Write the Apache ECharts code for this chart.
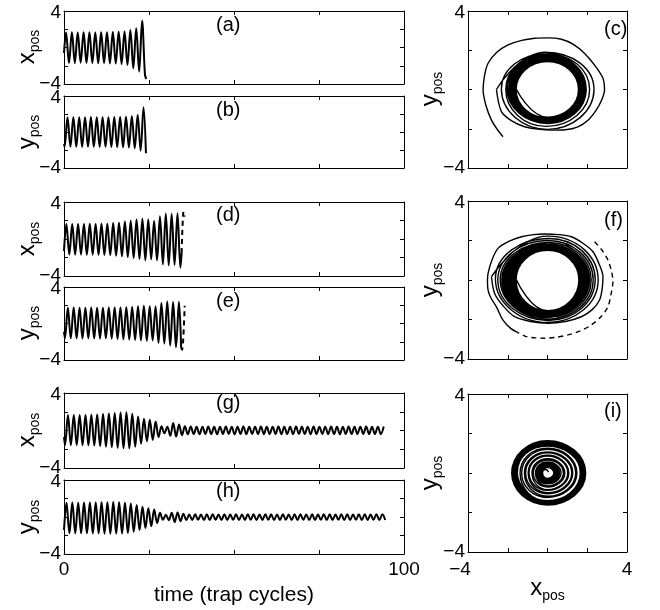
<!DOCTYPE html>
<html><head><meta charset="utf-8">
<script src="https://cdn.jsdelivr.net/npm/echarts@6/dist/echarts.min.js"></script>
<style>html,body{margin:0;padding:0;background:#fff}#c{width:660px;height:610px}</style>
</head><body><div id="c"></div>
<script>
// ---------------- data ----------------
const HALF_CYCLE = 0.86; // time between successive extrema (trap cycles)

// (a) x_pos, extrema start with a peak
const aHead = [[0, -0.6]];
const aStart = 0.6;
const aVals = [1.65,-1.68,1.66,-1.70,1.64,-1.66,1.66,-1.68,1.68,-1.70,1.65,-1.72,1.67,-1.70,1.66,-1.74,1.70,-1.76,1.72,-1.80,1.75,-1.92,1.92,-2.28,2.10,-2.65,2.94,-3.00];
const aTail = [[24.2, -3.45]];

// (b) y_pos, extrema start with a trough
const bHead = [[0, -1.33]];
const bStart = 0.17;
const bVals = [-1.63,1.63,-1.63,1.65,-1.62,1.64,-1.65,1.63,-1.63,1.66,-1.64,1.64,-1.66,1.65,-1.63,1.63,-1.65,1.66,-1.67,1.68,-1.70,1.70,-1.72,1.75,-1.80,1.89,-2.08,2.74];
const bTail = [[24.1, -2.37]];

// (d) x_pos
const dHead = [[0, -1.3]];
const dStart = 0.7;
const dVals = [1.62,-1.68,1.62,-1.69,1.63,-1.68,1.62,-1.70,1.64,-1.69,1.63,-1.70,1.65,-1.72,1.66,-1.74,1.72,-1.80,1.76,-1.86,1.90,-1.95,1.98,-2.05,2.10,-2.15,2.20,-2.30,2.10,-2.20,1.95,-2.30,2.45,-2.75,2.75,-2.85,2.72,-2.80,2.78,-3.10];
const dTail = [[34.6, -1.5]];
const dDash = [[34.6, -1.5],[35.15, 2.95],[35.45, 2.4]];

// (e) y_pos
const eHead = [[0, -0.9]];
const eStart = 0.27;
const eVals = [-1.62,1.73,-1.63,1.74,-1.62,1.72,-1.64,1.73,-1.62,1.74,-1.63,1.72,-1.64,1.73,-1.63,1.74,-1.65,1.75,-1.68,1.76,-1.72,1.78,-1.75,1.82,-1.80,1.90,-1.85,1.95,-1.90,1.90,-1.85,1.85,-2.10,2.25,-2.20,2.40,-2.40,2.35,-2.60,2.38];
const eTail = [[34.45, -2.67]];
const eDash = [[34.45, -2.67],[34.75, -2.9],[35.5, 1.95]];

// (g) x_pos
const gHead = [[0, -0.7]];
const gStart = 0.3;
const gVals = [-1.55,1.65,-1.56,1.66,-1.55,1.65,-1.57,1.66,-1.58,1.68,
 -1.60,1.72,-1.66,1.76,-1.72,1.82,-1.78,1.88,-1.85,1.92,
 -1.90,1.95,-1.90,1.80,-1.72,1.50,-1.40,1.25,-1.15,1.15,
 -1.00,0.95,-0.70,0.45,-0.30,0.40,-0.55,0.80,-0.65,0.65,
 -0.50,0.45,-0.40,0.42,-0.38,0.40,-0.39,0.41,-0.37,0.42,
 -0.38,0.40,-0.39,0.41,-0.38,0.42,-0.37,0.40,-0.39,0.41,
 -0.38,0.42,-0.39,0.40,-0.37,0.41,-0.38,0.42,-0.39,0.40,
 -0.38,0.41,-0.37,0.42,-0.39,0.40,-0.38,0.41,-0.39,0.42,
 -0.37,0.40,-0.38,0.41,-0.39,0.42,-0.38,0.40,-0.37,0.41,
 -0.39,0.42,-0.38,0.40,-0.39,0.41,-0.37,0.42,-0.38,0.40,
 -0.38,0.41,-0.37,0.42,-0.39,0.40,-0.38,0.41,-0.39,0.42];

// (h) y_pos
const hHead = [[0, -1.4]];
const hStart = 0.73;
const hVals = [1.55,-1.75,1.56,-1.77,1.55,-1.76,1.57,-1.77,1.56,-1.78,
 1.58,-1.77,1.60,-1.80,1.60,-1.80,1.62,-1.80,1.60,-1.78,
 1.55,-1.72,1.45,-1.60,1.30,-1.40,1.10,-1.20,0.95,-1.00,
 0.80,-0.65,0.45,-0.30,0.25,-0.35,0.45,-0.55,0.50,-0.45,
 0.35,-0.32,0.28,-0.33,0.29,-0.31,0.28,-0.33,0.30,-0.32,
 0.29,-0.31,0.28,-0.33,0.30,-0.32,0.28,-0.31,0.29,-0.33,
 0.28,-0.32,0.30,-0.31,0.29,-0.33,0.28,-0.32,0.30,-0.31,
 0.29,-0.33,0.28,-0.32,0.30,-0.31,0.28,-0.33,0.29,-0.32,
 0.30,-0.31,0.28,-0.33,0.29,-0.32,0.28,-0.31,0.30,-0.33,
 0.29,-0.32,0.28,-0.31,0.30,-0.33,0.29,-0.32,0.28,-0.31,
 0.30,-0.33,0.29,-0.32,0.28,-0.31,0.30,-0.33,0.29,-0.32];

// (c) phase portrait: outer spiral (dense points) and rings (left, top, right, bottom per turn)
const cOuter = [[-2.24,-2.41],[-2.55,-2.0],[-2.82,-1.56],[-3.1,-0.8],[-3.24,-0.03],[-3.17,0.7],[-2.99,1.34],[-2.55,1.9],[-1.98,2.27],[-1.3,2.5],[-0.64,2.61],[0.05,2.63],[0.7,2.56],[1.3,2.3],[1.87,1.84],[2.4,1.2],[2.79,0.57],[2.87,-0.03],[2.72,-0.55],[2.45,-1.05],[2.05,-1.55],[1.53,-1.9],[0.9,-2.05],[0.19,-2.07],[-0.5,-2.02],[-1.15,-1.9],[-1.8,-1.6],[-2.32,-1.13],[-2.57,0]];
const cRings = [[-2.57,0],[-0.1,1.9],[2.34,0],[0,-2.03],
 [-2.32,0.02],[-0.05,1.83],[2.12,0],[-0.05,-1.88],
 [-2.10,0],[0,1.78],[1.95,0],[0,-1.73],
 [-2.03,0.02],[0.02,1.74],[1.91,0.01],[0.01,-1.70],
 [-1.96,0.01],[0,1.70],[1.86,0],[0,-1.66],
 [-1.90,0],[0.01,1.66],[1.82,0.01],[0,-1.62],
 [-1.84,0.01],[0,1.62],[1.78,0],[0.01,-1.58],
 [-1.78,0],[0,1.58],[1.74,0],[0,-1.55],
 [-1.72,0.01],[0.01,1.54],[1.70,0],[0,-1.51],
 [-1.67,0],[0,1.50],[1.65,0.01],[0,-1.48],
 [-1.62,0],[0,1.46],[1.60,0],[0,-1.44],
 [-1.58,0],[0,1.43],[1.56,0],[0,-1.41],[-1.56,0]];

// (f) phase portrait
const fDash = [[2.37,1.94],[2.75,1.5],[3.04,1.01],[3.22,0.45],[3.29,-0.08],[3.2,-0.7],[3.04,-1.35],[2.7,-1.85],[2.2,-2.28],[1.65,-2.58],[1.03,-2.78],[0.45,-2.9],[-0.14,-2.95],[-0.6,-2.93],[-1.06,-2.87],[-1.48,-2.67]];
const fOuter = [[-1.48,-2.67],[-1.85,-2.45],[-2.24,-2.03],[-2.55,-1.4],[-2.85,-0.9],[-2.99,-0.51],[-3.02,0.0],[-2.99,0.34],[-2.8,1.0],[-2.49,1.6],[-1.95,1.95],[-1.31,2.19],[-0.7,2.3],[-0.14,2.33],[0.55,2.3],[1.2,2.19],[1.8,1.85],[2.29,1.43],[2.6,0.8],[2.79,0.17],[2.75,-0.45],[2.62,-1.01],[2.25,-1.5],[1.7,-1.86],[0.9,-2.1],[0.03,-2.19],[-0.85,-2.1],[-1.65,-1.86],[-2.2,-1.35],[-2.66,-0.68],[-2.82,0.17]];
const fRings = [[-2.82,0.17],[0,2.22],[2.55,0],[0,-2.15],
 [-2.62,0.05],[0.05,2.10],[2.40,0.02],[0.02,-2.05],
 [-2.50,0],[0,2.00],[2.30,0],[0,-1.98],
 [-2.38,0.02],[0.03,1.90],[2.20,0],[0,-1.90],
 [-2.30,0],[0,1.82],[2.12,0.01],[0,-1.84],
 [-2.25,0],[0,1.76],[2.08,0],[0,-1.80],
 [-2.19,0],[0,1.74],[2.04,0],[0,-1.78],
 [-2.13,0],[0,1.72],[2.00,0],[0,-1.76],
 [-2.07,0],[0,1.70],[1.96,0],[0,-1.74],
 [-2.01,0],[0,1.68],[1.92,0],[0,-1.72],
 [-1.95,0],[0,1.66],[1.88,0],[0,-1.70],
 [-1.89,0],[0,1.64],[1.84,0],[0,-1.68],
 [-1.84,0],[0,1.62],[1.80,0],[0,-1.66],
 [-1.79,0],[0,1.60],[1.76,0],[0,-1.64],
 [-1.74,0],[0,1.58],[1.72,0],[0,-1.62],
 [-1.69,0],[0,1.56],[1.68,0],[0,-1.60],
 [-1.65,0],[0,1.54],[1.64,0],[0,-1.58],
 [-1.61,0],[0,1.52],[1.61,0],[0,-1.57],
 [-1.58,0],[0,1.50],[1.58,0],[0,-1.56],[-1.56,0]];

// (i) phase portrait
const iRings = [[-0.7,-1.4],
 [-1.52,0],[0,1.36],[1.66,0],[0,-1.40],
 [-1.55,0],[0,1.38],[1.68,0],[0,-1.42],
 [-1.58,0],[0,1.40],[1.70,0],[0,-1.44],
 [-1.60,0],[0,1.44],[1.74,0],[0,-1.46],
 [-1.64,0],[0,1.48],[1.78,0],[0,-1.50],
 [-1.68,0],[0,1.52],[1.82,0],[0,-1.54],
 [-1.72,0],[0,1.56],[1.86,0],[0,-1.58],
 [-1.76,0],[0,1.60],[1.90,0],[0,-1.60],
 [-1.80,0],[0,1.64],[1.92,0],[0,-1.62],
 [-1.78,0],[0,1.62],[1.88,0],[0,-1.60],
 [-1.70,0],[0,1.55],[1.78,0],[0,-1.52],
 [-1.60,0],[0,1.45],[1.65,0],[0,-1.42],
 [-1.38,0],[0,1.26],[1.48,0],[0,-1.24],
 [-1.30,0],[0,1.20],[1.42,0],[0,-1.18],
 [-1.16,0],[0,1.07],[1.27,0],[0,-1.05],
 [-1.10,0],[0,1.02],[1.22,0],[0,-1.00],
 [-0.97,0],[0,0.90],[1.07,0],[0,-0.88],
 [-0.93,0],[0,0.86],[1.02,0],[0,-0.84],
 [-0.78,0],[0,0.72],[0.87,0],[0,-0.71],
 [-0.71,0],[0,0.66],[0.80,0],[0,-0.65],
 [-0.60,0],[0,0.56],[0.68,0],[0,-0.55],
 [-0.55,0],[0,0.52],[0.60,0],[0,-0.52],
 [-0.50,0],[0,0.48],[0.55,0],[0,-0.48],
 [-0.47,0],[0,0.45],[0.52,0],[0,-0.46],
 [-0.44,0],[0,0.42],[0.49,0],[0,-0.43],
 [-0.41,0],[0,0.40],[0.46,0],[0,-0.41],
 [-0.38,0],[0,0.37],[0.43,0],[0,-0.38],
 [-0.36,0],[0,0.35],[0.40,0],[0,-0.36],
 [-0.33,0],[0,0.33],[0.38,0],[0,-0.34],
 [-0.31,0],[0,0.31],[0.36,0],[0,-0.32],
 [-0.29,0],[0,0.29],[0.34,0],[0,-0.30],
 [-0.27,0],[0,0.27],[0.32,0],[0,-0.28],
 [-0.25,0.02],[-0.08,0.18],[0.05,0.05]];

const panelLabels = ['(a)','(b)','(d)','(e)','(g)','(h)','(c)','(f)','(i)'];
const timeTicksShown = [0, 100];
const posTicksShown = [-4, 4];

// ---------------- build ----------------
function timeSeries(head, t0, vals, tail) {
  return head.concat(vals.map((v, i) => [+(t0 + i * HALF_CYCLE).toFixed(3), v]), tail);
}
const F = '"Liberation Sans", Arial, Helvetica, sans-serif';
const MINUS = '\u2212';

const grids = [
  {left:64, top:11, width:340, height:73},
  {left:64, top:96, width:340, height:72},
  {left:64, top:202, width:340, height:74},
  {left:64, top:287, width:340, height:73},
  {left:64, top:393, width:340, height:75},
  {left:64, top:480, width:340, height:74},
  {left:468, top:11, width:159, height:157},
  {left:468, top:201, width:159, height:158},
  {left:468, top:394, width:159, height:158}
];

const labelRich = {
  t: {fontSize:19, fontFamily:F, color:'#000', padding:[4,0,0,0]},
  b: {fontSize:19, fontFamily:F, color:'#000'},
  m: {fontSize:19, fontFamily:F, color:'#000', padding:[0,16,0,0]},
  n: {fontSize:19, fontFamily:F, color:'#000'}
};
const yFmt = v => v === posTicksShown[1] ? '{t|4}' : (v === posTicksShown[0] ? '{b|' + MINUS + '4}' : '');
const tFmt = v => timeTicksShown.indexOf(v) >= 0 ? '{n|' + v + '}' : '';
const pFmt = v => v === posTicksShown[0] ? '{m|' + MINUS + '4}' : (v === posTicksShown[1] ? '{n|4}' : '');

function axis(gi, pos, min, max, interval, fmt, margin) {
  return {
    gridIndex: gi, type: 'value', position: pos, min: min, max: max, interval: interval,
    axisLine: {show: true, onZero: false, lineStyle: {color: '#000', width: 1}},
    axisTick: {show: true, inside: true, length: 4, lineStyle: {color: '#000', width: 1}},
    splitLine: {show: false},
    axisLabel: fmt ? {show: true, formatter: fmt, rich: labelRich, margin: margin, showMinLabel: true, showMaxLabel: true, color:'#000', fontFamily: F, fontSize: 19} : {show: false}
  };
}

const xAxes = [], yAxes = [];
for (let p = 0; p < 9; p++) {
  const isTime = p < 6;
  const xFmt = p === 5 ? tFmt : (p === 8 ? pFmt : null);
  if (isTime) {
    xAxes.push(axis(p, 'bottom', 0, 100, 25, xFmt, 6));
    xAxes.push(axis(p, 'top', 0, 100, 25, null));
  } else {
    xAxes.push(axis(p, 'bottom', -4, 4, 2, xFmt, 8));
    xAxes.push(axis(p, 'top', -4, 4, 2, null));
  }
  yAxes.push(axis(p, 'left', -4, 4, 2, yFmt, 3));
  yAxes.push(axis(p, 'right', -4, 4, 2, null));
}

function line(p, data, smooth, width, dashed) {
  return {
    type: 'line', xAxisIndex: 2 * p, yAxisIndex: 2 * p, data: data,
    smooth: smooth, showSymbol: false, symbol: 'none', silent: true, animation: false,
    lineStyle: {color: '#000', width: width, type: dashed ? [5, 4] : 'solid'}
  };
}

const TS = 0.36, TW = 2;
const series = [
  line(0, timeSeries(aHead, aStart, aVals, aTail), TS, TW),
  line(1, timeSeries(bHead, bStart, bVals, bTail), TS, TW),
  line(2, timeSeries(dHead, dStart, dVals, dTail), TS, TW),
  line(2, dDash, 0.3, TW, true),
  line(3, timeSeries(eHead, eStart, eVals, eTail), TS, TW),
  line(3, eDash, 0.3, TW, true),
  line(4, timeSeries(gHead, gStart, gVals, []), TS, TW),
  line(5, timeSeries(hHead, hStart, hVals, []), TS, TW),
  line(6, cOuter, 0.3, 1.4),
  line(6, cRings, 0.55, 1.4),
  line(7, fOuter, 0.3, 1.4),
  line(7, fRings, 0.55, 1.4),
  line(7, fDash, 0.3, 1.4, true),
  line(8, iRings, 0.55, 1.4)
];

function txt(x, y, text, size, align) {
  return {type: 'text', x: x, y: y, silent: true,
    style: {text: text, fontSize: size, fontFamily: F, fill: '#000', align: align || 'left', verticalAlign: 'middle'}};
}
const subRich = {
  x: {fontSize: 24, fontFamily: F, fill: '#000', lineHeight: 30},
  p: {fontSize: 14, fontFamily: F, fill: '#000', lineHeight: 14, verticalAlign: 'bottom'}
};
function axName(x, y, letter, rot) {
  return {type: 'text', x: x, y: y, rotation: rot, silent: true,
    style: {text: '{x|' + letter + '}{p|pos}', rich: subRich, fontFamily: F, fill: '#000', align: 'center', verticalAlign: 'middle'}};
}

const graphic = [
  txt(216, 25, panelLabels[0], 20), txt(216, 110, panelLabels[1], 20),
  txt(216, 215, panelLabels[2], 20), txt(216, 301.5, panelLabels[3], 20),
  txt(216, 403, panelLabels[4], 20), txt(216, 491.5, panelLabels[5], 20),
  txt(604, 29, panelLabels[6], 20), txt(604, 220, panelLabels[7], 20), txt(604, 411.5, panelLabels[8], 20),
  axName(27.5, 47, 'x', Math.PI / 2), axName(27.5, 132, 'y', Math.PI / 2),
  axName(27.5, 239, 'x', Math.PI / 2), axName(27.5, 323, 'y', Math.PI / 2),
  axName(27.5, 430, 'x', Math.PI / 2), axName(27.5, 517, 'y', Math.PI / 2),
  axName(430, 89, 'y', Math.PI / 2), axName(430, 280, 'y', Math.PI / 2), axName(430, 473, 'y', Math.PI / 2),
  axName(547.5, 588, 'x', 0),
  txt(234, 595, 'time (trap cycles)', 21, 'center')
];

const chart = echarts.init(document.getElementById('c'), null, {renderer: 'canvas'});
chart.setOption({
  animation: false,
  backgroundColor: '#fff',
  grid: grids,
  xAxis: xAxes,
  yAxis: yAxes,
  series: series,
  graphic: graphic
});
</script>
</body></html>
